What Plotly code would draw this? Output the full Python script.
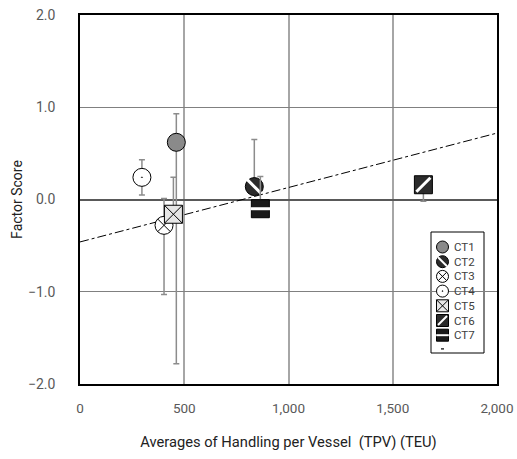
import plotly.graph_objects as go

names = ["CT1", "CT2", "CT3", "CT4", "CT5", "CT6", "CT7"]
tpv = [462, 836, 403, 297, 448, 1647, 865]
score = [0.62, 0.14, -0.28, 0.24, -0.16, 0.16, -0.10]
err_plus = [0.31, 0.51, 0.29, 0.19, 0.40, 0.0, 0.35]
err_minus = [2.40, 0.0, 0.75, 0.19, 0.0, 0.18, 0.0]

trend_x = [0, 2000]
trend_y = [-0.46, 0.72]

x_ticks = [0, 500, 1000, 1500, 2000]
y_ticks = [-2, -1, 0, 1, 2]

symbols = ["circle", "circle", "circle-x", "circle-dot", "square-x", "square", "square"]
fills = ["#8a8a8a", "#2b2b2b", "#ffffff", "#ffffff", "#e6e6e6", "#2b2b2b", "#1a1a1a"]
overlay = [None, "line-nw", None, None, None, "line-ne", "line-ew"]

fig = go.Figure()

fig.add_trace(go.Scatter(
    x=trend_x, y=trend_y, mode="lines",
    line=dict(color="black", width=1, dash="dashdot"),
    hoverinfo="skip"))

for i, n in enumerate(names):
    fig.add_trace(go.Scatter(
        x=[tpv[i]], y=[score[i]], mode="markers", name=n,
        marker=dict(symbol=symbols[i], size=18, color=fills[i],
                    line=dict(color="black", width=1)),
        error_y=dict(type="data", symmetric=False,
                     array=[err_plus[i]], arrayminus=[err_minus[i]],
                     color="#8c8c8c", thickness=1.5, width=3),
    ))
    if overlay[i]:
        fig.add_trace(go.Scatter(
            x=[tpv[i]], y=[score[i]], mode="markers", hoverinfo="skip",
            marker=dict(symbol=overlay[i], size=14,
                        line=dict(color="white", width=3)),
        ))

# ---- custom legend (drawn on a pixel-space overlay axis) ----
leg_left, leg_right, leg_top, leg_bottom = 431, 484, 232, 353
leg_mx, leg_tx, leg_y0, leg_dy = 442.5, 452, 247, 14.7

for i, n in enumerate(names):
    yy = leg_y0 + i * leg_dy
    fig.add_trace(go.Scatter(
        x=[leg_mx], y=[yy], xaxis="x2", yaxis="y2", mode="markers",
        hoverinfo="skip",
        marker=dict(symbol=symbols[i], size=12, color=fills[i],
                    line=dict(color="black", width=1))))
    if overlay[i]:
        fig.add_trace(go.Scatter(
            x=[leg_mx], y=[yy], xaxis="x2", yaxis="y2", mode="markers",
            hoverinfo="skip",
            marker=dict(symbol=overlay[i], size=9,
                        line=dict(color="white", width=2))))
    fig.add_annotation(x=leg_tx, y=yy, xref="x2", yref="y2", text=n,
                       showarrow=False, xanchor="left", yanchor="middle",
                       font=dict(size=11.5, color="#404040"))

fig.add_trace(go.Scatter(
    x=[leg_mx - 1.5, leg_mx + 1.5], y=[leg_y0 + 7 * leg_dy - 1] * 2,
    xaxis="x2", yaxis="y2", mode="lines", hoverinfo="skip",
    line=dict(color="black", width=1.2)))

fig.add_shape(type="rect", xref="x2", yref="y2",
              x0=leg_left, x1=leg_right, y0=leg_top, y1=leg_bottom,
              line=dict(color="black", width=1), fillcolor="white",
              layer="below")

fig.update_layout(
    width=517, height=459, showlegend=False,
    margin=dict(l=80, r=20, t=15, b=75),
    plot_bgcolor="white", paper_bgcolor="white",
    font=dict(family="Roboto, Arial", size=13, color="#222"),
    xaxis=dict(range=[0, 2000], tickvals=x_ticks, tickformat=",",
               showgrid=True, gridcolor="#a6a6a6", gridwidth=1.5,
               showline=True, linecolor="black", linewidth=1.5, mirror=True,
               zeroline=False, ticks="", automargin=False,
               ticklabelstandoff=11, ticklabeloverflow="allow",
               tickfont=dict(size=13.5, color="#595959"),
               title=dict(text="Averages of Handling per Vessel  (TPV) (TEU)",
                          font=dict(size=14.7, color="#222"), standoff=22)),
    yaxis=dict(range=[-2, 2], tickvals=y_ticks, tickformat=".1f",
               showgrid=True, gridcolor="#808080", gridwidth=1,
               showline=True, linecolor="black", linewidth=1.5, mirror=True,
               zeroline=True, zerolinecolor="#595959", zerolinewidth=1.5,
               ticks="", automargin=False, ticklabelstandoff=20,
               ticklabeloverflow="allow",
               tickfont=dict(size=14, color="#595959"),
               title=dict(text="Factor Score", font=dict(size=14, color="#222"),
                          standoff=2)),
    xaxis2=dict(range=[80, 497], overlaying="x", anchor="y2", visible=False,
                fixedrange=True),
    yaxis2=dict(range=[384, 15], overlaying="y", anchor="x2", visible=False,
                fixedrange=True),
)

fig.write_html("out.html",
               config={"displayModeBar": False},
               post_script="document.body.style.margin='0';"
                           "document.body.style.overflow='hidden';")
